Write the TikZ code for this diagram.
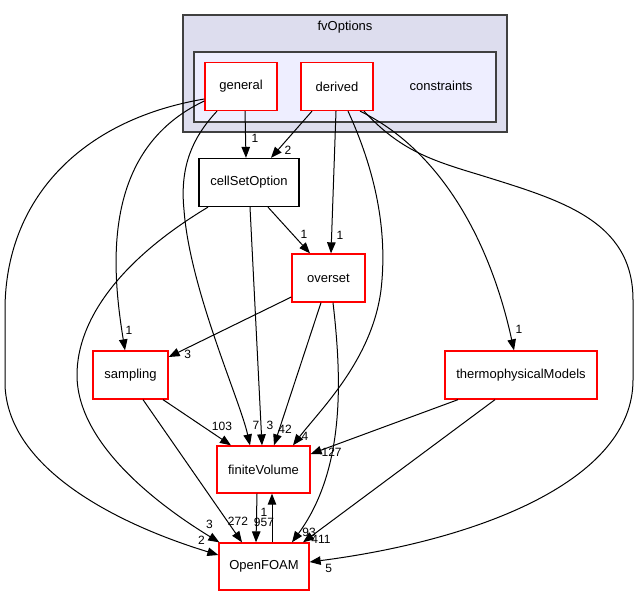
\documentclass[tikz,border=0pt]{standalone}
\usepackage{fontspec}
\setmainfont{Liberation Sans}
\usepackage{tikz}
\usetikzlibrary{arrows.meta}

\definecolor{clusout}{HTML}{DDDDEE}
\definecolor{clusin}{HTML}{EEEEFF}
\definecolor{clusline}{HTML}{404040}

\begin{document}
\begin{tikzpicture}[
  x=1pt, y=-1pt,
  font=\fontsize{13}{15}\selectfont,
  dirbox/.style ={draw=red, fill=white, line width=1.3pt, inner sep=0pt,
                  minimum height=48pt},
  plainbox/.style={dirbox, draw=black},
  clus/.style   ={draw=clusline, line width=1.5pt, inner sep=0pt},
  ar/.style     ={-{Triangle[length=11pt,width=8.5pt]}, line width=1pt},
  lbl/.style    ={font=\fontsize{12}{14}\selectfont, inner sep=0pt},
  lb/.style 2 args={lbl, at end, xshift=#1, yshift=#2},
]
\useasboundingbox (0,0) rectangle (640,596);

% ---- clusters ----
\node[clus, fill=clusout, minimum width=324pt, minimum height=117pt] (fvopt) at (345,73.5) {};
\node (fvoptlbl) at (345,27) {fvOptions};
\node[clus, fill=clusin, minimum width=302pt, minimum height=70pt] (constr) at (345,87) {};
\node (constrlbl) at (441,86) {constraints};

% ---- directories ----
\node[dirbox, minimum width=72pt]   (general) at (241,86.5) {general};
\node[dirbox, minimum width=72pt]   (derived) at (337,86.5) {derived};
\node[plainbox, minimum width=100pt](cso)     at (249,182.5) {cellSetOption};
\node[dirbox, minimum width=73pt]   (overset) at (328.5,278) {overset};
\node[dirbox, minimum width=75pt]   (sampling) at (130.5,375) {sampling};
\node[dirbox, minimum width=152pt]  (thermo)  at (521,375) {thermophysicalModels};
\node[dirbox, minimum width=93pt, minimum height=47pt] (fv) at (263.5,469.5) {finiteVolume};
\node[dirbox, minimum width=90pt, minimum height=47pt] (of) at (264,566.5) {OpenFOAM};

% ---- edges from general ----
\draw[ar] ([xshift=4pt]general.south) -- ([xshift=-3pt]cso.north) node[lb={9}{19}]{1};
\draw[ar] ([yshift=-14.5pt]general.west) .. controls (100,150) and (112,270) .. ([xshift=-5.5pt]sampling.north) node[lb={4}{20}]{1};
\draw[ar] ([yshift=-12.5pt]general.west) .. controls (80,120) and (5,200) .. (5,310) -- (5,385)
  .. controls (8,470) and (120,525) .. ([yshift=11.5pt]of.west) node[lb={-17}{15}]{2};
\draw[ar] ([xshift=-24pt]general.south) .. controls (190,140) and (180,170) .. (184,210)
  .. controls (190,290) and (240,400) .. ([xshift=-13.5pt]fv.north) node[lb={6}{20}]{7};

% ---- edges from derived ----
\draw[ar] ([xshift=-25pt]derived.south) -- ([xshift=22pt]cso.north) node[lb={17}{8}]{2};
\draw[ar] ([xshift=-1pt]derived.south) -- ([xshift=2.5pt]overset.north) node[lb={9}{18}]{1};
\draw[ar] ([xshift=11pt]derived.south) .. controls (375,170) and (388,230) .. (381,290)
  .. controls (372,360) and (320,410) .. ([xshift=29.5pt]fv.north) node[lb={12}{9}]{4};
\draw[ar] ([xshift=23pt]derived.south) .. controls (440,150) and (490,240) .. ([xshift=-7pt]thermo.north) node[lb={5}{21}]{1};
\draw[ar] ([xshift=27pt]derived.south) .. controls (400,150) and (430,160) .. (480,175)
  .. controls (560,200) and (633,220) .. (633,300) -- (633,380)
  .. controls (633,480) and (480,540) .. ([yshift=4.5pt]of.east) node[lb={19}{-6}]{5};

% ---- edges from cellSetOption ----
\draw[ar] ([xshift=-41pt]cso.south) .. controls (120,260) and (77,320) .. (77,375)
  .. controls (77,440) and (150,500) .. ([xshift=1pt]of.north west) node[lb={-10}{18}]{3};
\draw[ar] ([xshift=19pt]cso.south) -- ([xshift=-18.5pt]overset.north) node[lb={-6}{19}]{1};
\draw[ar] ([xshift=1pt]cso.south) -- ([xshift=-1.5pt]fv.north) node[lb={8}{20}]{3};

% ---- edges from overset ----
\draw[ar] ([xshift=-7.5pt]overset.south) -- ([xshift=10.5pt]fv.north) node[lb={11}{16}]{42};
\draw[ar] ([yshift=-19pt]overset.west) -- ([yshift=18pt]sampling.east) node[lb={19}{3}]{3};
\draw[ar] ([xshift=4.5pt]overset.south) .. controls (342,380) and (345,470) .. ([xshift=28pt]of.north) node[lb={17}{10}]{93};

% ---- edges from sampling / thermophysicalModels ----
\draw[ar] ([xshift=32.5pt]sampling.south) -- ([xshift=-32.5pt]fv.north) node[lb={-9}{19}]{103};
\draw[ar] ([xshift=12.5pt]sampling.south) -- ([xshift=-22pt]of.north) node[lb={-4}{21}]{272};
\draw[ar] ([xshift=-63pt]thermo.south) -- ([yshift=15.5pt]fv.east) node[lb={21}{2}]{127};
\draw[ar] ([xshift=-26pt]thermo.south) -- ([xshift=39pt]of.north) node[lb={18}{3}]{411};

% ---- finiteVolume <-> OpenFOAM ----
\draw[ar] ([xshift=-6.5pt]fv.south) -- ([xshift=-8pt]of.north) node[lb={8}{20}]{957};
\draw[ar] ([xshift=8pt]of.north) -- ([xshift=8.5pt]fv.south) node[lb={-8}{-19}]{1};
\end{tikzpicture}
\end{document}
